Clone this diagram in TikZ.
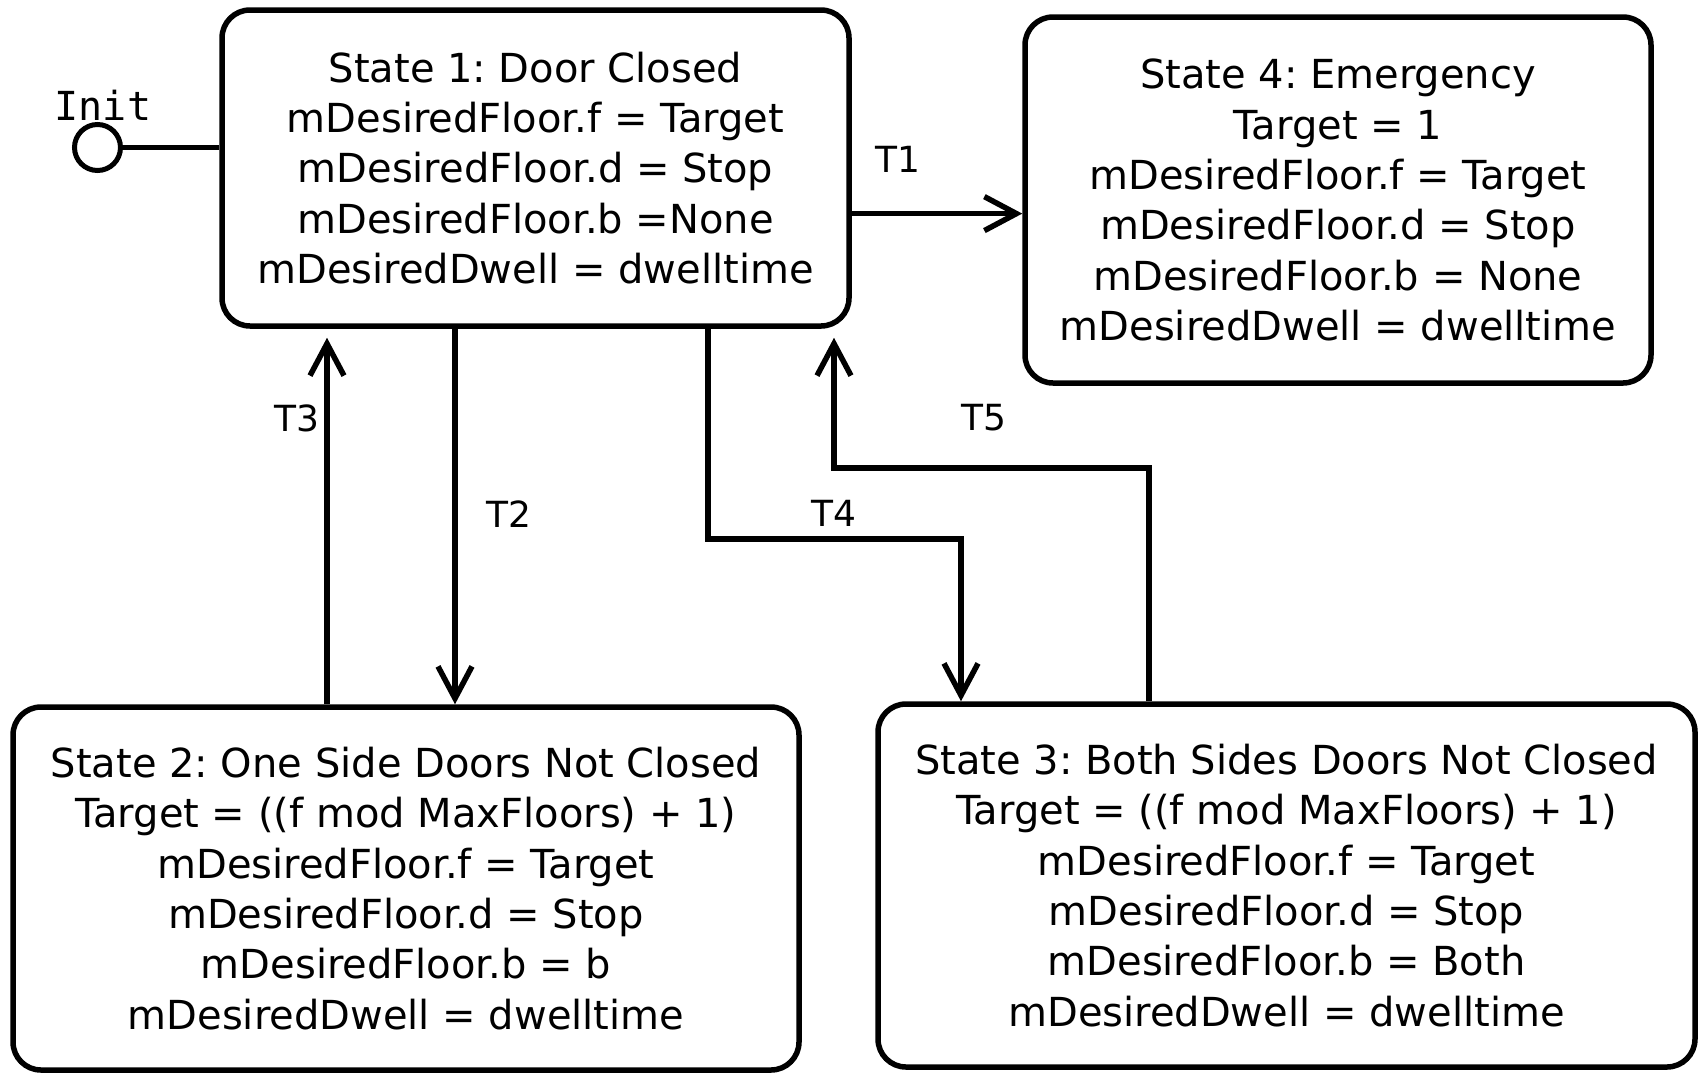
\documentclass[tikz,border=0pt]{standalone}
\usepackage{fontspec}
\setmainfont{DejaVu Sans}
\newfontfamily\initfont{DejaVu Sans Mono}
\usetikzlibrary{arrows.meta}
\frenchspacing
\begin{document}
\begin{tikzpicture}[x=1pt,y=-1pt,
  state/.style={draw=black, line width=5.5pt, rounded corners=28pt, fill=white,
    align=center, inner sep=0pt, font=\frenchspacing\fontsize{40}{50.3}\selectfont},
  conn/.style={line width=5.5pt, -{Straight Barb[length=32pt,width=34pt]}},
  lbl/.style={inner sep=0pt, font=\fontsize{36}{40}\selectfont},
  initdot/.style={circle, draw=black, line width=5pt, fill=white, minimum size=46pt, inner sep=0pt}]
\useasboundingbox (0,0) rectangle (1700,1072);
\fill[white] (0,0) rectangle (1700,1072);

% states
\node[state, minimum width=627pt, minimum height=316pt] (s1) at (535.5,168)
  {State 1: Door Closed\\ mDesiredFloor.f = Target\\ mDesiredFloor.d = Stop\\ mDesiredFloor.b =None\\ mDesiredDwell = dwelltime};
\node[state, minimum width=626pt, minimum height=366pt] (s4) at (1338,200)
  {State 4: Emergency\\ Target = 1\\ mDesiredFloor.f = Target\\ mDesiredFloor.d = Stop\\ mDesiredFloor.b = None\\ mDesiredDwell = dwelltime};
\node[state, minimum width=786pt, minimum height=363pt] (s2) at (406,888.5)
  {State 2: One Side Doors Not Closed\\ Target = ((f mod MaxFloors) + 1)\\ mDesiredFloor.f = Target\\ mDesiredFloor.d = Stop\\ mDesiredFloor.b = b\\ mDesiredDwell = dwelltime};
\node[state, minimum width=817pt, minimum height=363pt] (s3) at (1286.5,885.5)
  {State 3: Both Sides Doors Not Closed\\ Target = ((f mod MaxFloors) + 1)\\ mDesiredFloor.f = Target\\ mDesiredFloor.d = Stop\\ mDesiredFloor.b = Both\\ mDesiredDwell = dwelltime};

% init
\node[initdot] (init) at (97.5,147.5) {};
\node[inner sep=0pt, font=\initfont\fontsize{40}{40}\selectfont] (initlbl) at (103,105) {Init};
\draw[line width=5pt] (init.east) -- (init.east -| s1.west);

% helper coordinates
\coordinate (t1) at (0,213.6);
\coordinate (xT3) at (327,0);
\coordinate (xT2) at (455,0);
\coordinate (t4a) at (708,539);
\coordinate (t4b) at (961,539);
\coordinate (t5a) at (1149,468);
\coordinate (t5b) at (834,468);

% connectors
\draw[conn] (s1.east |- t1) -- (s4.west |- t1);
\draw[conn, shorten >=9pt] (s2.north -| xT3) -- (s1.south -| xT3);
\draw[conn] (s1.south -| xT2) -- (s2.north -| xT2);
\draw[conn] (s1.south -| t4a) -- (t4a) -- (t4b) -- (s3.north -| t4b);
\draw[conn, shorten >=9pt] (s3.north -| t5a) -- (t5a) -- (t5b) -- (s1.south -| t5b);

% labels
\node[lbl] (lT1) at (898,159) {T1};
\node[lbl] (lT3) at (297,418) {T3};
\node[lbl] (lT2) at (509,514) {T2};
\node[lbl] (lT4) at (834,513) {T4};
\node[lbl] (lT5) at (984,418) {T5};
\end{tikzpicture}
\end{document}
